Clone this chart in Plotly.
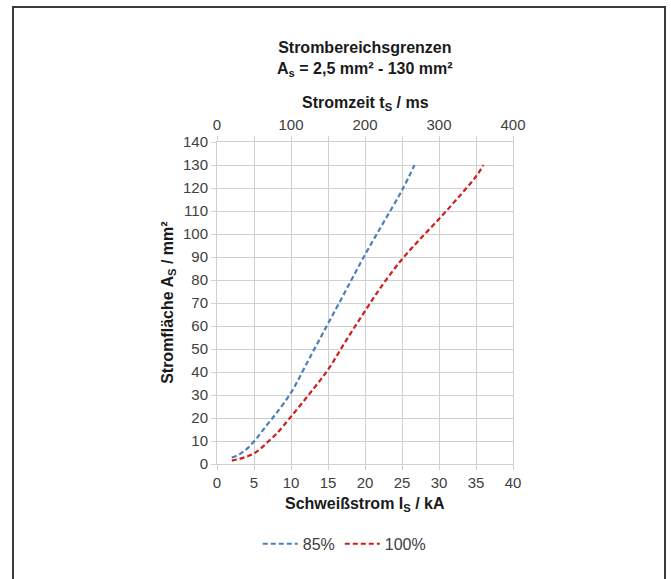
import plotly.graph_objects as go

# Data
strom_85 = [2, 3, 4, 5, 6, 7, 8, 10, 12.5, 15, 17.5, 20, 22.5, 25, 26.7]
flaeche_85 = [2.8, 4.2, 6.5, 9.8, 13.8, 18, 22, 31, 46, 61, 76, 91, 105, 119, 130]

strom_100 = [2, 3, 4, 5, 6, 7, 8, 10, 12.5, 15, 17.5, 20, 22.5, 25, 27.5, 30, 32.5, 35, 36]
flaeche_100 = [1.5, 2.2, 3.2, 4.6, 7, 10, 13, 20.6, 30.5, 41, 54, 66.5, 78.5, 89, 98, 106.5, 115.5, 125, 130]

x_ticks = [0, 5, 10, 15, 20, 25, 30, 35, 40]
y_ticks = list(range(0, 141, 10))
t_ticks = [0, 100, 200, 300, 400]

FONT = "Liberation Sans, Arial, sans-serif"
TXT = "#1a1a1a"
TICK = "#404040"
GRID = "#d0d0d0"

fig = go.Figure()
fig.add_trace(go.Scatter(x=strom_85, y=flaeche_85, mode="lines", name="85%",
                         line=dict(color="#4a7ebb", width=2.2, dash="5px,3px", shape="spline")))
fig.add_trace(go.Scatter(x=strom_100, y=flaeche_100, mode="lines", name="100%",
                         line=dict(color="#d01c1c", width=2.2, dash="5px,3px", shape="spline")))
# invisible trace to carry the top time axis
fig.add_trace(go.Scatter(x=[t_ticks[0], t_ticks[-1]], y=[0, 0], xaxis="x2", mode="lines",
                         line=dict(width=0), showlegend=False, hoverinfo="skip", opacity=0))

axis_common = dict(showgrid=True, gridcolor=GRID, gridwidth=1, zeroline=False,
                   showline=True, linecolor=GRID, linewidth=1,
                   ticks="outside", ticklen=5, tickcolor=GRID,
                   tickfont=dict(family=FONT, size=15, color=TICK))

fig.update_layout(
    width=671, height=579,
    margin=dict(l=217, r=158, t=142, b=115),
    paper_bgcolor="white", plot_bgcolor="white",
    font=dict(family=FONT, color=TXT),
    xaxis=dict(range=[0, 40], tickvals=x_ticks, mirror=False, **axis_common),
    yaxis=dict(range=[0, 140], tickvals=y_ticks, mirror=True, **axis_common),
    xaxis2=dict(range=[0, 400], overlaying="x", side="top", tickvals=t_ticks,
                showgrid=False, zeroline=False, showline=True, linecolor=GRID,
                ticks="outside", ticklen=5, tickcolor=GRID,
                minor=dict(dtick=50, tick0=0, ticks="outside", ticklen=5, tickcolor=GRID, showgrid=False),
                tickfont=dict(family=FONT, size=15, color=TICK)),
    showlegend=True,
    legend=dict(orientation="h", x=0.43, y=-0.248, xanchor="center", yanchor="middle",
                font=dict(family=FONT, size=16, color=TICK), itemwidth=35, tracegroupgap=0),
    annotations=[
        dict(text="<b>Strombereichsgrenzen</b><br><b>A<sub>s</sub> = 2,5 mm² - 130 mm²</b>",
             xref="paper", yref="paper", x=0.5, y=1.258, xanchor="center", yanchor="middle",
             showarrow=False, font=dict(family=FONT, size=16, color=TXT)),
        dict(text="<b>Stromzeit t<sub>S</sub> / ms</b>", xref="paper", yref="paper",
             x=0.5, y=1.121, xanchor="center", yanchor="middle", showarrow=False,
             font=dict(family=FONT, size=16, color=TXT)),
        dict(text="<b>Schweißstrom I<sub>S</sub> / kA</b>", xref="paper", yref="paper",
             x=0.5, y=-0.127, xanchor="center", yanchor="middle", showarrow=False,
             font=dict(family=FONT, size=16, color=TXT)),
        dict(text="<b>Stromfläche A<sub>S</sub> / mm²</b>", xref="paper", yref="paper",
             x=-0.166, y=0.5, xanchor="center", yanchor="middle", showarrow=False, textangle=-90,
             font=dict(family=FONT, size=16, color=TXT)),
    ],
    shapes=[dict(type="rect", xref="paper", yref="paper",
                 x0=(13 - 217) / 296, x1=(665 - 217) / 296,
                 y0=(464 - 600) / 322, y1=(464 - 7) / 322,
                 line=dict(color="#3a3a3a", width=2), fillcolor="rgba(0,0,0,0)", layer="below")],
)

fig.write_html("out.html")
